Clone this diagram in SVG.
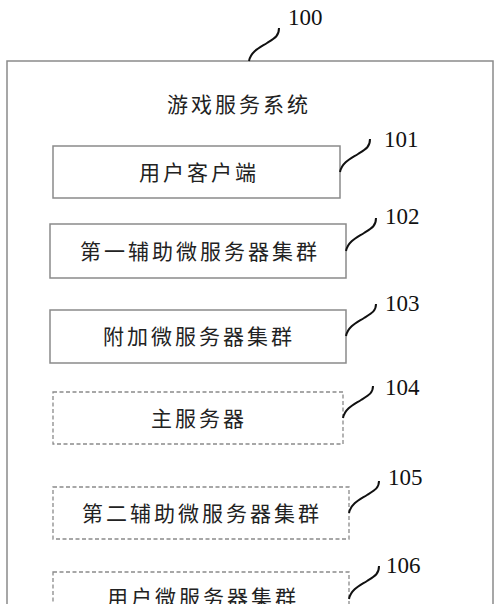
<svg xmlns="http://www.w3.org/2000/svg" width="500" height="604" viewBox="0 0 500 604">
<style>
.frame{fill:#fff;stroke:#8a8a8a;stroke-width:1.5}
.box{fill:#fff;stroke:#8a8a8a;stroke-width:1.5}
.dash{fill:#fff;stroke:#8a8a8a;stroke-width:1.3;stroke-dasharray:4 2.5}
.cn{font-family:"Noto Sans CJK SC","Noto Sans CJK JP",sans-serif;font-size:21px;letter-spacing:3px;fill:#222;text-anchor:middle}
.num{font-family:"Liberation Serif","Times New Roman",serif;font-size:23px;fill:#111}
.lead{fill:none;stroke:#111;stroke-width:2}
</style>
<rect width="500" height="604" fill="#fff"/>
<g id="system">
<rect class="frame" x="7" y="61" width="486" height="580"/>
<text class="cn" x="239" y="112">游戏服务系统</text>
</g>
<g id="n101"><rect class="box" x="53" y="146" width="287" height="52"/><text class="cn" x="199" y="180">用户客户端</text></g>
<g id="n102"><rect class="box" x="50" y="224" width="296" height="54"/><text class="cn" x="200" y="259">第一辅助微服务器集群</text></g>
<g id="n103"><rect class="box" x="50" y="310" width="296" height="53"/><text class="cn" x="199" y="344">附加微服务器集群</text></g>
<g id="n104"><rect class="dash" x="53" y="392" width="290" height="52"/><text class="cn" x="199" y="426">主服务器</text></g>
<g id="n105"><rect class="dash" x="53" y="487" width="296" height="52"/><text class="cn" x="202" y="521">第二辅助微服务器集群</text></g>
<g id="n106"><rect class="dash" x="53" y="572" width="296" height="60"/><text class="cn" x="203" y="605">用户微服务器集群</text></g>
<g id="connectors">
<path class="lead" d="M249,61 C251,51 261,47 267,43 C275,38 279,36 279,28"/>
<path class="lead" d="M340,172 C342,162 352,158 358,154 C366,149 370,147 370,139"/>
<path class="lead" d="M346,251 C348,241 358,237 364,233 C372,228 376,226 376,218"/>
<path class="lead" d="M346,336 C348,326 358,322 364,318 C372,313 376,311 376,304"/>
<path class="lead" d="M343,418 C345,408 355,404 361,400 C369,395 373,393 373,386"/>
<path class="lead" d="M349,513 C351,503 361,499 367,495 C375,490 379,488 379,481"/>
<path class="lead" d="M349,599 C351,589 361,585 367,581 C375,576 379,574 379,566"/>
</g>
<g id="labels">
<text class="num" x="288" y="25">100</text>
<text class="num" x="384" y="147">101</text>
<text class="num" x="385" y="224">102</text>
<text class="num" x="385" y="311">103</text>
<text class="num" x="385" y="395">104</text>
<text class="num" x="388" y="485">105</text>
<text class="num" x="386" y="573">106</text>
</g>
</svg>
